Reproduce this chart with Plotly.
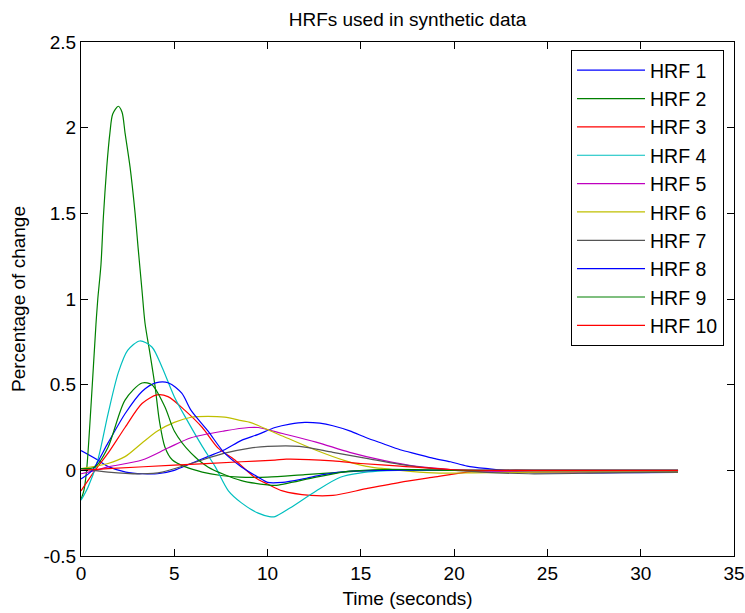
import plotly.graph_objects as go

# ---- data (time in seconds, value in % change) ----
names = ["HRF 1", "HRF 2", "HRF 3", "HRF 4", "HRF 5", "HRF 6", "HRF 7", "HRF 8", "HRF 9", "HRF 10"]
colors = ["#0000FF", "#008000", "#FF0000", "#00BFBF", "#BF00BF", "#BFBF00", "#555555", "#0000FF", "#008000", "#FF0000"]

t1 = [0, 0.9, 1.5, 2.4, 3.3, 4.1, 5.0, 5.9, 6.8, 7.7, 8.6, 9.5, 10.4, 11.2, 12.0, 12.8, 13.5, 14.4, 15.3, 16.2, 17.1, 18.0, 18.9, 19.8, 20.7, 21.9, 23, 24, 26, 28, 30, 32]
v1 = [0.115, 0.06, 0.02, -0.01, -0.02, -0.02, 0.0, 0.04, 0.08, 0.12, 0.175, 0.21, 0.25, 0.27, 0.28, 0.275, 0.26, 0.23, 0.19, 0.155, 0.12, 0.095, 0.07, 0.05, 0.025, 0.008, -0.005, -0.012, -0.015, -0.015, -0.013, -0.012]

t2 = [0, 0.15, 0.3, 0.55, 0.8, 0.9, 1.07, 1.2, 1.38, 1.55, 1.7, 2.0, 2.2, 2.36, 2.63, 2.9, 3.06, 3.27, 3.43, 3.7, 3.97, 4.2, 4.5, 4.9, 5.6, 6.5, 7.5, 8.5, 10, 12, 14, 16, 20, 25, 32]
v2 = [-0.17, -0.12, 0.0, 0.4, 0.85, 1.0, 1.2, 1.48, 1.77, 1.97, 2.08, 2.125, 2.09, 1.97, 1.77, 1.5, 1.3, 1.05, 0.86, 0.68, 0.49, 0.29, 0.135, 0.06, 0.02, -0.01, -0.03, -0.04, -0.04, -0.025, -0.01, 0.0, 0.0, -0.005, -0.005]

t3 = [0, 0.75, 1.45, 2.36, 3.27, 4.07, 4.66, 5.57, 6.5, 7.35, 8.25, 9.3, 10.0, 10.8, 12.3, 13.5, 15.3, 17.1, 18.9, 20.7, 22.5, 25, 28, 32]
v3 = [-0.12, 0.0, 0.1, 0.25, 0.39, 0.44, 0.43, 0.35, 0.25, 0.13, 0.06, -0.04, -0.08, -0.12, -0.146, -0.146, -0.107, -0.07, -0.04, -0.01, 0.0, 0.0, 0.0, 0.0]

t4 = [0, 0.37, 0.9, 1.45, 2.0, 2.5, 3.15, 3.8, 4.35, 5.0, 5.7, 6.5, 7.2, 7.9, 8.6, 9.5, 10.1, 10.4, 11.2, 12.6, 13.9, 15, 15.9, 17, 20, 25, 32]
v4 = [-0.175, -0.1, 0.06, 0.33, 0.57, 0.7, 0.755, 0.72, 0.6, 0.43, 0.29, 0.14, 0.02, -0.12, -0.19, -0.25, -0.27, -0.27, -0.22, -0.12, -0.04, -0.015, -0.005, 0.0, 0.0, 0.0, 0.0]

t5 = [0, 0.8, 1.45, 3.27, 4.66, 5.9, 7.7, 9.0, 9.5, 10.8, 12.6, 14.4, 16.2, 18, 19.8, 22, 25, 28, 32]
v5 = [-0.02, 0.0, 0.02, 0.06, 0.13, 0.19, 0.23, 0.25, 0.25, 0.215, 0.165, 0.105, 0.058, 0.023, 0.005, -0.005, -0.01, -0.01, -0.01]

t6 = [0, 1.45, 2.36, 3.27, 4.1, 5.0, 5.9, 6.8, 7.7, 8.6, 9.06, 10.8, 12.6, 14.1, 15.3, 17.1, 18.9, 21, 25, 28, 32]
v6 = [0.01, 0.04, 0.08, 0.16, 0.23, 0.28, 0.31, 0.315, 0.31, 0.29, 0.28, 0.2, 0.117, 0.058, 0.023, 0.0, -0.015, -0.015, -0.01, -0.01, -0.01]

t7 = [0, 1.45, 3.27, 4.35, 5.9, 7.7, 9.06, 10.0, 11.7, 13.5, 15.3, 17.1, 18.9, 21.5, 24, 28, 32]
v7 = [0.01, -0.01, -0.02, -0.01, 0.04, 0.1, 0.13, 0.14, 0.14, 0.105, 0.07, 0.035, 0.01, -0.01, -0.02, -0.015, -0.01]

t8 = [0, 0.6, 1.45, 2.36, 3.27, 4.0, 4.7, 5.4, 5.9, 6.8, 7.7, 8.6, 9.5, 10.0, 10.8, 11.9, 13, 14.5, 16, 20, 25, 32]
v8 = [-0.05, 0.0, 0.16, 0.33, 0.46, 0.51, 0.51, 0.45, 0.35, 0.23, 0.1, 0.02, -0.04, -0.07, -0.07, -0.05, -0.025, -0.005, 0.0, 0.0, 0.0, 0.0]

t9 = [0, 0.75, 1.45, 2.36, 3.27, 3.8, 4.5, 5.0, 5.9, 6.8, 8.6, 10.0, 10.4, 12.6, 14.4, 16.2, 20, 25, 32]
v9 = [0.01, 0.02, 0.135, 0.41, 0.51, 0.5, 0.37, 0.23, 0.1, 0.02, -0.06, -0.085, -0.088, -0.04, -0.005, 0.005, 0.0, 0.0, 0.0]

t10 = [0, 1.45, 5.0, 8.6, 10.4, 11.0, 13.5, 15.0, 17.1, 19.8, 22, 25, 32]
v10 = [0.0, 0.01, 0.03, 0.05, 0.06, 0.065, 0.055, 0.04, 0.025, 0.005, 0.0, 0.0, 0.0]

times = [t1, t2, t3, t4, t5, t6, t7, t8, t9, t10]
values = [v1, v2, v3, v4, v5, v6, v7, v8, v9, v10]

x_ticks = [0, 5, 10, 15, 20, 25, 30, 35]
y_ticks = [-0.5, 0, 0.5, 1, 1.5, 2, 2.5]
y_tick_text = ["-0.5", "0", "0.5", "1", "1.5", "2", "2.5"]

FONT = "Liberation Sans, Arial, Helvetica, sans-serif"
FS = 19

fig = go.Figure()
for name, col, t, v in zip(names, colors, times, values):
    fig.add_trace(go.Scatter(x=t, y=v, mode="lines", name=name,
                             line=dict(color=col, width=1.2, shape="spline", smoothing=0.8)))

axis_common = dict(showline=True, linecolor="black", linewidth=1, mirror="ticks",
                   ticks="inside", ticklen=7, tickcolor="black", tickwidth=1,
                   showgrid=False, zeroline=False, automargin=False,
                   ticklabeloverflow="allow",
                   tickfont=dict(family=FONT, size=FS, color="black"))

fig.update_layout(
    width=745, height=613,
    margin=dict(l=81, r=11, t=42, b=57),
    paper_bgcolor="white", plot_bgcolor="white",
    title=dict(text="HRFs used in synthetic data", x=(81 + 734) / 2 / 745, xanchor="center",
               y=1 - 19 / 613, yanchor="middle",
               font=dict(family=FONT, size=FS, color="black")),
    xaxis=dict(range=[0, 35], tickvals=x_ticks, ticktext=[str(v) for v in x_ticks],
               title=dict(text="Time (seconds)", font=dict(family=FONT, size=FS, color="black"), standoff=8),
               **axis_common),
    yaxis=dict(range=[-0.5, 2.5], tickvals=y_ticks, ticktext=y_tick_text,
               title=dict(text="Percentage of change", font=dict(family=FONT, size=FS, color="black"), standoff=12),
               **axis_common),
    legend=dict(x=(724 - 81) / 653, y=(556 - 50) / 514, xanchor="right", yanchor="top",
                bgcolor="white", bordercolor="black", borderwidth=1,
                font=dict(family=FONT, size=19.5, color="black"),
                itemwidth=68, tracegroupgap=0),
    showlegend=True,
)

fig.write_html("out.html", config={"displayModeBar": False},
               post_script="document.body.style.margin='0';")
